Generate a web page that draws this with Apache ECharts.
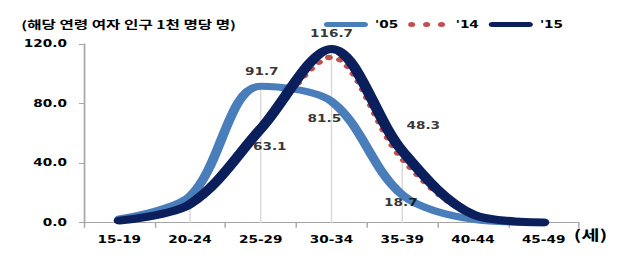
<!DOCTYPE html>
<html>
<head>
<meta charset="utf-8">
<script src="https://cdn.jsdelivr.net/npm/echarts@6/dist/echarts.min.js"></script>
<style>
html,body{margin:0;padding:0;background:#fff;overflow:hidden;}
#wrap{width:635px;height:260px;overflow:hidden;}
#c{width:447px;height:260px;transform:scaleX(1.4206);transform-origin:0 0;}
</style>
</head>
<body>
<div id="wrap"><div id="c"></div></div>
<script>
// ---- data ----
const categories = ['15-19', '20-24', '25-29', '30-34', '35-39', '40-44', '45-49'];
const seriesNames = ["'05", "'14", "'15"];
const rate2005 = [2.5, 17.8, 91.7, 81.5, 18.7, 2.3, 0.2];
const rate2014 = [1.6, 13.1, 63.4, 111.1, 43.2, 5.2, 0.2];
const rate2015 = [1.4, 12.5, 63.1, 116.7, 48.3, 5.6, 0.2];
const yTicks = [0, 40, 80, 120];
const unitTitle = '(해당 연령 여자 인구 1천 명당 명)';
const xUnit = '(세)';
// labelled category indices
const labels2005 = [2, 3, 4];
const labels2015 = [2, 3, 4];

const dropMax = categories.map((c, i) => Math.max(rate2005[i], rate2014[i], rate2015[i]));

const numFont = 'DejaVu Sans';
const labelOffsets05 = {2: [0.7, -14.5], 3: [-5, 17], 4: [-1, 8]};
const labelOffsets15 = {2: [6.3, 18], 3: [0, -15], 4: [14.8, -25]};

const capsuleIcon = 'path://M2.5,0 L28.5,0 A2.5,2.5 0 0 1 28.5,5 L2.5,5 A2.5,2.5 0 0 1 2.5,0 Z';
const dotsIcon = 'path://M0,2.5 A2.5,2.5 0 1 1 5,2.5 A2.5,2.5 0 1 1 0,2.5 Z M10.5,2.5 A2.5,2.5 0 1 1 15.5,2.5 A2.5,2.5 0 1 1 10.5,2.5 Z M21,2.5 A2.5,2.5 0 1 1 26,2.5 A2.5,2.5 0 1 1 21,2.5 Z';

function labelData(arr, idxs, offs) {
  return idxs.map(i => ({
    value: [i, arr[i]],
    label: {offset: offs[i]}
  }));
}

const chart = echarts.init(document.getElementById('c'), null, {renderer: 'svg'});
chart.setOption({
  animation: false,
  backgroundColor: '#fff',
  title: {
    text: unitTitle, left: 10, top: 14,
    textStyle: {fontFamily: 'Noto Sans CJK KR', fontWeight: 'bold', fontSize: 11, color: '#000'}
  },
  legend: {
    data: [
      {name: seriesNames[0], icon: capsuleIcon},
      {name: seriesNames[1], icon: dotsIcon},
      {name: seriesNames[2], icon: capsuleIcon}
    ],
    left: 223, top: 14.5, itemWidth: 31, itemHeight: 5, itemGap: 7,
    textStyle: {fontFamily: numFont, fontWeight: 'bold', fontSize: 9.6, color: '#000'}
  },
  grid: {left: 59.1, right: 39.4, top: 44, bottom: 37.3, containLabel: false},
  xAxis: {
    type: 'category', data: categories, boundaryGap: true,
    name: xUnit, nameLocation: 'end', nameGap: -11,
    nameTextStyle: {fontFamily: 'Noto Sans CJK KR', fontWeight: 'bold', fontSize: 14, color: '#000', verticalAlign: 'top', align: 'left', padding: [4, 0, 0, 0]},
    axisLine: {lineStyle: {color: '#a6a6a6', width: 1.2}},
    axisTick: {show: true, length: 5, alignWithLabel: false, lineStyle: {color: '#a6a6a6'}},
    axisLabel: {margin: 12, fontFamily: numFont, fontWeight: 'bold', fontSize: 9.6, color: '#000'},
    splitLine: {show: false}
  },
  yAxis: {
    type: 'value', min: 0, max: 120, interval: 40,
    axisLine: {show: true, lineStyle: {color: '#a6a6a6', width: 1.2}},
    axisTick: {show: true, length: 3.5, lineStyle: {color: '#a6a6a6'}},
    axisLabel: {margin: 12, fontFamily: numFont, fontWeight: 'bold', fontSize: 9.6, color: '#000',
      formatter: v => yTicks.includes(v) ? v.toFixed(1) : ''},
    splitLine: {show: false}
  },
  series: [
    {
      type: 'custom', name: 'drop', silent: true, z: 1,
      data: dropMax.map((v, i) => [i, v]),
      renderItem: function (params, api) {
        const top = api.coord([api.value(0), api.value(1)]);
        const bot = api.coord([api.value(0), 0]);
        return {type: 'line', shape: {x1: top[0], y1: top[1], x2: bot[0], y2: bot[1]},
          style: {stroke: '#d9d9d9', lineWidth: 1}};
      }
    },
    {
      name: seriesNames[0], type: 'line', data: rate2005, smooth: 0.33, symbol: 'none', z: 2,
      lineStyle: {color: '#4a7ebb', width: 7, cap: 'round'}, itemStyle: {color: '#4a7ebb'}
    },
    {
      name: seriesNames[1], type: 'line', data: rate2014, smooth: 0.33, symbol: 'none', z: 3,
      lineStyle: {color: '#c0504d', width: 5.5, type: [0.01, 8.5], cap: 'round'}, itemStyle: {color: '#c0504d'}
    },
    {
      name: seriesNames[2], type: 'line', data: rate2015, smooth: 0.33, symbol: 'none', z: 4,
      lineStyle: {color: '#0a1f5c', width: 8, cap: 'round'}, itemStyle: {color: '#0a1f5c'}
    },
    {
      name: 'lab05', type: 'scatter', z: 10, symbolSize: 1, itemStyle: {color: 'rgba(0,0,0,0)'},
      data: labelData(rate2005, labels2005, labelOffsets05),
      label: {show: true, position: 'inside', color: '#000', fontFamily: numFont, fontWeight: 'bold', fontSize: 9.6,
        textBorderWidth: 0, formatter: p => p.value[1].toFixed(1)}
    },
    {
      name: 'lab15', type: 'scatter', z: 10, symbolSize: 1, itemStyle: {color: 'rgba(0,0,0,0)'},
      data: labelData(rate2015, labels2015, labelOffsets15),
      label: {show: true, position: 'inside', color: '#000', fontFamily: numFont, fontWeight: 'bold', fontSize: 9.6,
        textBorderWidth: 0, formatter: p => p.value[1].toFixed(1)}
    }
  ]
});
</script>
</body>
</html>
